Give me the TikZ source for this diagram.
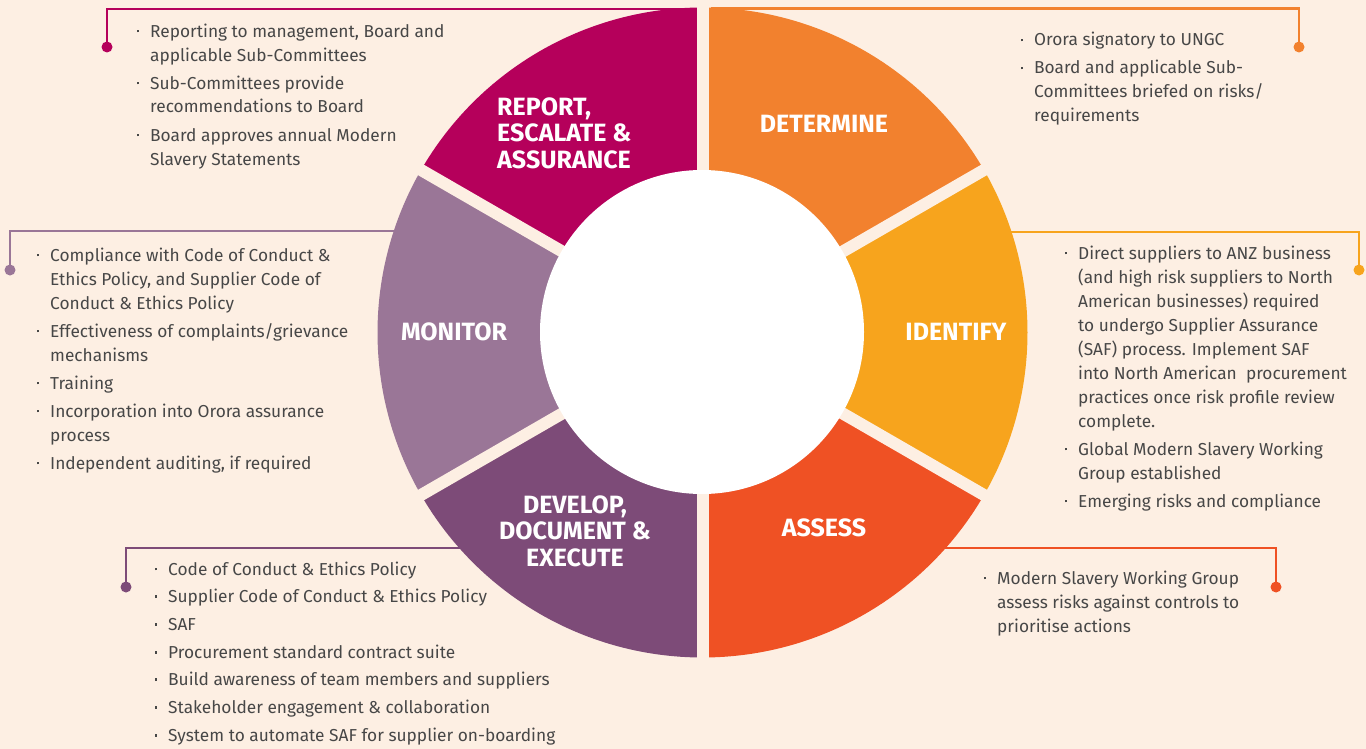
\documentclass[tikz,border=0pt]{standalone}
\usepackage{fontspec}
\setmainfont{Fira Sans}
\usetikzlibrary{calc}
\definecolor{bgc}{HTML}{FDEFE3}
\definecolor{cRep}{HTML}{B5005B}
\definecolor{cDet}{HTML}{F2812E}
\definecolor{cIde}{HTML}{F7A41D}
\definecolor{cAss}{HTML}{EF5124}
\definecolor{cDev}{HTML}{7D4B78}
\definecolor{cMon}{HTML}{9A7697}
\definecolor{txtc}{HTML}{474747}
\newcommand\itm{\leavevmode\llap{\rule[4.6pt]{2.8pt}{2.8pt}\hspace{10.8pt}}}
\begin{document}
\begin{tikzpicture}[x=1pt,y=-1pt,
  txt/.style={anchor=north west, inner sep=0pt, align=left, text=txtc,
    font=\fontsize{17.3}{24}\selectfont},
  lbl/.style={inner sep=0pt, text=white, align=center,
    font=\fontsize{25}{26.5}\selectfont\bfseries},
  dotn/.style={circle, inner sep=0pt, minimum size=11pt, fill=#1},
  call/.style={draw=#1, line width=2.2pt}]
\useasboundingbox (0,0) rectangle (1366,749);
\fill[bgc] (0,0) rectangle (1366,749);
\coordinate (C) at (702.5,332.5);

% callout connectors (behind the ring)
\node[dotn=cRep] (dRep) at (107,47) {};
\node[dotn=cDet] (dDet) at (1299,47) {};
\node[dotn=cMon] (dMon) at (10,270) {};
\node[dotn=cIde] (dIde) at (1359,270) {};
\node[dotn=cDev] (dDev) at (126,587) {};
\node[dotn=cAss] (dAss) at (1276,587) {};
\coordinate (eRep) at (695,9);
\coordinate (eDet) at (711,8.5);
\coordinate (eMon) at (450,231);
\coordinate (eIde) at (960,232);
\coordinate (eDev) at (520,548);
\coordinate (eAss) at (900,548);
\draw[call=cRep] (dRep.center) |- (eRep);
\draw[call=cDet] (dDet.center) |- (eDet);
\draw[call=cMon] (dMon.center) |- (eMon);
\draw[call=cIde] (dIde.center) |- (eIde);
\draw[call=cDev] (dDev.center) |- (eDev);
\draw[call=cAss] (dAss.center) |- (eAss);

% ring segments
\fill[cDet] (C) -- ++(-90:325) arc[start angle=-90,end angle=-30,radius=325] -- cycle;
\fill[cIde] (C) -- ++(-30:325) arc[start angle=-30,end angle=30,radius=325] -- cycle;
\fill[cAss] (C) -- ++(30:325) arc[start angle=30,end angle=90,radius=325] -- cycle;
\fill[cDev] (C) -- ++(90:325) arc[start angle=90,end angle=150,radius=325] -- cycle;
\fill[cMon] (C) -- ++(150:325) arc[start angle=150,end angle=210,radius=325] -- cycle;
\fill[cRep] (C) -- ++(210:325) arc[start angle=210,end angle=270,radius=325] -- cycle;
\foreach \a in {-90,-30,30,90,150,210}
  \draw[bgc, line width=12pt] (C) -- ++(\a:335);
\fill[white] (702,332) circle[radius=162];

% segment labels
\node[lbl, align=left, anchor=west] (lRep) at (497,133) {REPORT,\\ESCALATE \&\\ASSURANCE};
\node[lbl] (lDet) at (824,124) {DETERMINE};
\node[lbl] (lIde) at (956,332) {IDENTIFY};
\node[lbl] (lAss) at (824,528) {ASSESS};
\node[lbl] (lDev) at (575,531) {DEVELOP,\\DOCUMENT \&\\EXECUTE};
\node[lbl] (lMon) at (454,332) {MONITOR};

% callout texts
\node[txt] (tRep) at (150,20) {\strut\itm Reporting to management, Board and\\
applicable Sub-Committees\\[4pt]
\itm Sub-Committees provide\\
recommendations to Board\\[4pt]
\itm Board approves annual Modern\\
Slavery Statements};

\node[txt] (tDet) at (1034,29) {\strut\itm Orora signatory to UNGC\\[4pt]
\itm Board and applicable Sub-\\
Committees briefed on risks/\\
requirements};

\node[txt] (tMon) at (50,244) {\strut\itm Compliance with Code of Conduct \&\\
Ethics Policy, and Supplier Code of\\
Conduct \& Ethics Policy\\[4pt]
\itm Effectiveness of complaints/grievance\\
mechanisms\\[4pt]
\itm Training\\[4pt]
\itm Incorporation into Orora assurance\\
process\\[4pt]
\itm Independent auditing, if required};

\node[txt] (tIde) at (1078,242) {\strut\itm Direct suppliers to ANZ business\\
(and high risk suppliers to North\\
American businesses) required\\
to undergo Supplier Assurance\\
(SAF) process. Implement SAF\\
into North American\ \ procurement\\
practices once risk profile review\\
complete.\\[4pt]
\itm Global Modern Slavery Working\\
Group established\\[4pt]
\itm Emerging risks and compliance};

\node[txt] (tAss) at (997,567) {\strut\itm Modern Slavery Working Group\\
assess risks against controls to\\
prioritise actions};

\node[txt] (tDev) at (168,558) {\strut\itm Code of Conduct \& Ethics Policy\\[3.7pt]
\itm Supplier Code of Conduct \& Ethics Policy\\[3.7pt]
\itm SAF\\[3.7pt]
\itm Procurement standard contract suite\\[3.7pt]
\itm Build awareness of team members and suppliers\\[3.7pt]
\itm Stakeholder engagement \& collaboration\\[3.7pt]
\itm System to automate SAF for supplier on-boarding};
\end{tikzpicture}
\end{document}
